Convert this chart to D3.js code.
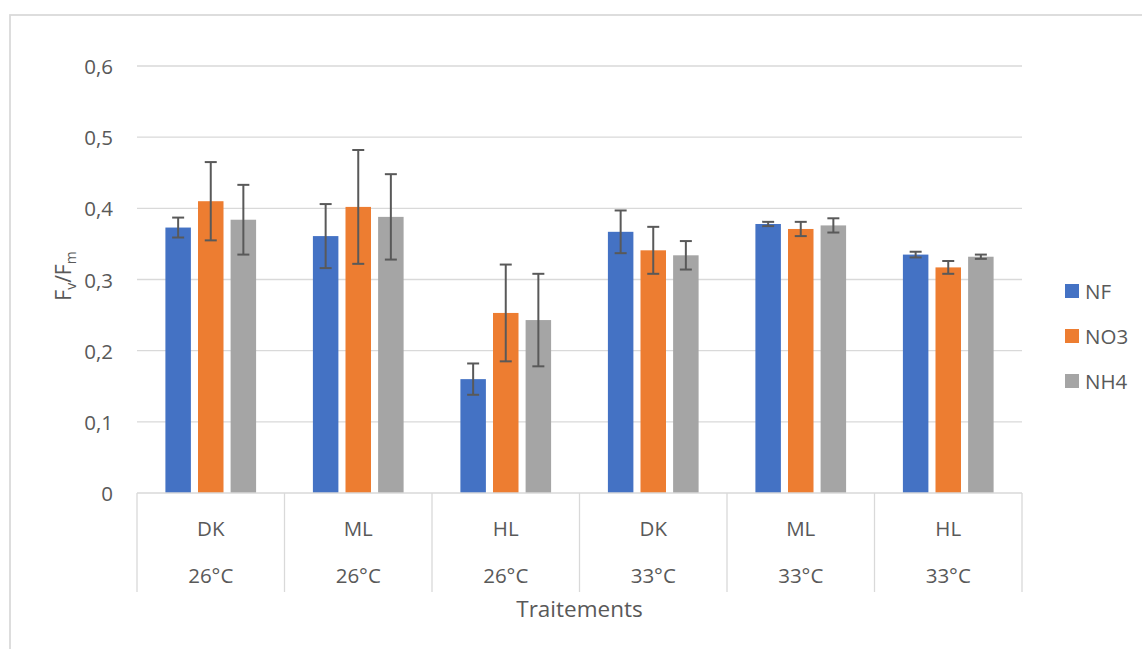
<!DOCTYPE html>
<html>
<head>
<meta charset="utf-8">
<script src="https://cdn.jsdelivr.net/npm/d3@7"></script>
<style>
  html, body { margin: 0; padding: 0; background: #fff; }
  svg { display: block; }
  text { font-family: "Open Sans", "Noto Sans", sans-serif; fill: #595959; }
</style>
</head>
<body>
<svg id="chart" width="1142" height="649"></svg>
<script>
// Fv/Fm by treatment (light level × temperature) and nitrogen source
const lightLevels = ["DK", "ML", "HL", "DK", "ML", "HL"];
const temperatures = ["26°C", "26°C", "26°C", "33°C", "33°C", "33°C"];
const seriesNames = ["NF", "NO3", "NH4"];
const seriesColors = ["#4472C4", "#ED7D31", "#A5A5A5"];

const nfMean  = [0.373, 0.361, 0.160, 0.367, 0.378, 0.335];
const no3Mean = [0.410, 0.402, 0.253, 0.341, 0.371, 0.317];
const nh4Mean = [0.384, 0.388, 0.243, 0.334, 0.376, 0.332];

const nfErr  = [0.014, 0.045, 0.022, 0.030, 0.003, 0.004];
const no3Err = [0.055, 0.080, 0.068, 0.033, 0.010, 0.009];
const nh4Err = [0.049, 0.060, 0.065, 0.020, 0.010, 0.003];

const yTicks = [0, 0.1, 0.2, 0.3, 0.4, 0.5, 0.6];

const means = [nfMean, no3Mean, nh4Mean];
const errs = [nfErr, no3Err, nh4Err];
const catIds = lightLevels.map((d, i) => i);

const svg = d3.select("#chart");

// outer frame
svg.append("rect")
  .attr("x", 10).attr("y", 15)
  .attr("width", 1200).attr("height", 700)
  .attr("fill", "none").attr("stroke", "#d9d9d9").attr("stroke-width", 1.75);

const plot = { left: 137, right: 1022, top: 66, bottom: 493 };

const y = d3.scaleLinear().domain([0, 0.6]).range([plot.bottom, plot.top]);
const x0 = d3.scaleBand().domain(catIds).range([plot.left, plot.right]).paddingInner(0).paddingOuter(0);
const x1 = d3.scaleBand().domain(d3.range(seriesNames.length))
  .range([0, x0.bandwidth()]).paddingInner(0.218).paddingOuter(0.871);

// gridlines
svg.append("g").selectAll("line").data(yTicks.filter(t => t > 0)).join("line")
  .attr("x1", plot.left).attr("x2", plot.right)
  .attr("y1", d => y(d)).attr("y2", d => y(d))
  .attr("stroke", "#d9d9d9").attr("stroke-width", 1.3);

// y tick labels
svg.append("g").selectAll("text").data(yTicks).join("text")
  .attr("x", 113).attr("y", d => y(d))
  .attr("text-anchor", "end").attr("dominant-baseline", "central")
  .style("font-size", "20.5px")
  .text(d => d3.format(".1~f")(d).replace(".", ","));

// bars
const groups = svg.append("g").selectAll("g").data(catIds).join("g")
  .attr("transform", c => `translate(${x0(c)},0)`);

groups.selectAll("rect").data(c => means.map((m, s) => ({ s, v: m[c] }))).join("rect")
  .attr("x", d => x1(d.s)).attr("width", x1.bandwidth())
  .attr("y", d => y(d.v)).attr("height", d => y(0) - y(d.v))
  .attr("fill", d => seriesColors[d.s]);

// error bars
const capHalf = 6;
const eb = groups.selectAll("g.err").data(c => means.map((m, s) => ({ s, v: m[c], e: errs[s][c] }))).join("g")
  .attr("class", "err")
  .attr("transform", d => `translate(${x1(d.s) + x1.bandwidth() / 2},0)`)
  .attr("stroke", "#595959").attr("stroke-width", 2);
eb.append("line").attr("x1", 0).attr("x2", 0)
  .attr("y1", d => y(d.v + d.e)).attr("y2", d => y(d.v - d.e));
eb.append("line").attr("x1", -capHalf).attr("x2", capHalf)
  .attr("y1", d => y(d.v + d.e)).attr("y2", d => y(d.v + d.e));
eb.append("line").attr("x1", -capHalf).attr("x2", capHalf)
  .attr("y1", d => y(d.v - d.e)).attr("y2", d => y(d.v - d.e));

// category axis: baseline and separators
svg.append("line")
  .attr("x1", plot.left).attr("x2", plot.right)
  .attr("y1", plot.bottom).attr("y2", plot.bottom)
  .attr("stroke", "#d9d9d9").attr("stroke-width", 1.3);
const seps = catIds.map(c => x0(c)).concat([x0(catIds[catIds.length - 1]) + x0.bandwidth()]);
svg.append("g").selectAll("line").data(seps).join("line")
  .attr("x1", d => d).attr("x2", d => d)
  .attr("y1", plot.bottom).attr("y2", 592)
  .attr("stroke", "#d9d9d9").attr("stroke-width", 1.3);

svg.append("g").selectAll("text").data(catIds).join("text")
  .attr("x", c => x0(c) + x0.bandwidth() / 2).attr("y", 528)
  .attr("text-anchor", "middle").attr("dominant-baseline", "central")
  .style("font-size", "20.5px")
  .text(c => lightLevels[c]);
svg.append("g").selectAll("text").data(catIds).join("text")
  .attr("x", c => x0(c) + x0.bandwidth() / 2).attr("y", 575)
  .attr("text-anchor", "middle").attr("dominant-baseline", "central")
  .style("font-size", "20.5px")
  .text(c => temperatures[c]);

// axis titles
svg.append("text")
  .attr("x", (plot.left + plot.right) / 2).attr("y", 617)
  .attr("text-anchor", "middle")
  .style("font-size", "22.5px")
  .text("Traitements");

const yTitle = svg.append("text")
  .attr("transform", "translate(71,276) rotate(-90)")
  .attr("text-anchor", "middle")
  .style("font-size", "21px");
yTitle.append("tspan").text("F");
yTitle.append("tspan").attr("dy", 5).style("font-size", "14px").text("v");
yTitle.append("tspan").attr("dy", -5).text("/F");
yTitle.append("tspan").attr("dy", 5).style("font-size", "14px").text("m");

// legend
const legend = svg.append("g").selectAll("g").data(seriesNames).join("g")
  .attr("transform", (d, i) => `translate(1065,${291 + i * 45})`);
legend.append("rect").attr("x", 0).attr("y", -7).attr("width", 14).attr("height", 14)
  .attr("fill", (d, i) => seriesColors[i]);
legend.append("text").attr("x", 20).attr("y", 0)
  .attr("dominant-baseline", "central")
  .style("font-size", "20.5px")
  .text(d => d);
</script>
</body>
</html>
